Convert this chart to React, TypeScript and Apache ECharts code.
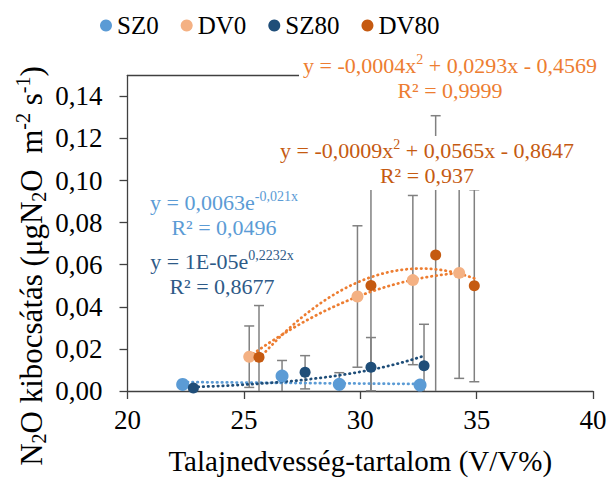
import React, { useEffect, useRef } from 'react';
import * as echarts from 'echarts';

// Soil moisture (V/V%) vs N2O emission, four treatments, mean ± SD
const seriesNames = ['SZ0', 'DV0', 'SZ80', 'DV80'];

const sz0X = [22.37, 26.64, 29.1, 32.57];
const sz0Y = [0.0031, 0.0071, 0.0032, 0.0028];
const sz0Sd = [0.0012, 0.0074, 0.0055, 0.001];

const dv0X = [25.23, 29.88, 32.26, 34.25];
const dv0Y = [0.0163, 0.0449, 0.0527, 0.0561];
const dv0Sd = [0.0146, 0.0336, 0.0402, 0.0501];

const sz80X = [22.83, 27.63, 30.46, 32.74];
const sz80Y = [0.0014, 0.0089, 0.0113, 0.012];
const sz80Sd = [0.001, 0.0079, 0.0141, 0.0197];

const dv80X = [25.65, 30.46, 33.24, 34.9];
const dv80Y = [0.016, 0.0501, 0.0646, 0.05];
const dv80Sd = [0.0246, 0.05, 0.0662, 0.0456];

const yTickValues = [0, 0.02, 0.04, 0.06, 0.08, 0.1, 0.12, 0.14];
const xTickValues = [20, 25, 30, 35, 40];

const eqDV0 = ['y = -0,0004x{sup|2} + 0,0293x - 0,4569', 'R² = 0,9999'];
const eqDV80 = ['y = -0,0009x{sup|2} + 0,0565x - 0,8647', 'R² = 0,937'];
const eqSZ0 = ['y = 0,0063e{sup|-0,021x}', 'R² = 0,0496'];
const eqSZ80 = ['y = 1E-05e{sup|0,2232x}', 'R² = 0,8677'];

const COLORS = {
  sz0: '#5B9BD5',
  dv0: '#F4B183',
  sz80: '#1F4E79',
  dv80: '#C55A11',
};

const SERIF = 'Liberation Serif';

// least-squares quadratic y = a x^2 + b x + c
function quadFit(xs: number[], ys: number[]) {
  let n = xs.length, s1 = 0, s2 = 0, s3 = 0, s4 = 0, t0 = 0, t1 = 0, t2 = 0;
  for (let i = 0; i < n; i++) {
    const x = xs[i], y = ys[i];
    s1 += x; s2 += x * x; s3 += x * x * x; s4 += x * x * x * x;
    t0 += y; t1 += x * y; t2 += x * x * y;
  }
  const m = [
    [s4, s3, s2],
    [s3, s2, s1],
    [s2, s1, n],
  ];
  const v = [t2, t1, t0];
  const det = (a: number[][]) =>
    a[0][0] * (a[1][1] * a[2][2] - a[1][2] * a[2][1]) -
    a[0][1] * (a[1][0] * a[2][2] - a[1][2] * a[2][0]) +
    a[0][2] * (a[1][0] * a[2][1] - a[1][1] * a[2][0]);
  const d = det(m);
  const coef = [0, 1, 2].map((col) => {
    const mm = m.map((row, r) => row.map((val, c) => (c === col ? v[r] : val)));
    return det(mm) / d;
  });
  return (x: number) => coef[0] * x * x + coef[1] * x + coef[2];
}

// exponential fit y = A e^(k x) via log-linear regression
function expFit(xs: number[], ys: number[]) {
  const n = xs.length;
  const ly = ys.map((y) => Math.log(y));
  const mx = xs.reduce((a, b) => a + b, 0) / n;
  const my = ly.reduce((a, b) => a + b, 0) / n;
  let sxy = 0, sxx = 0;
  for (let i = 0; i < n; i++) {
    sxy += (xs[i] - mx) * (ly[i] - my);
    sxx += (xs[i] - mx) * (xs[i] - mx);
  }
  const k = sxy / sxx;
  const lnA = my - k * mx;
  return (x: number) => Math.exp(lnA + k * x);
}

function curve(f: (x: number) => number, xs: number[], steps = 80) {
  const x0 = Math.min(...xs);
  const x1 = Math.max(...xs);
  const pts: number[][] = [];
  for (let i = 0; i <= steps; i++) {
    const x = x0 + ((x1 - x0) * i) / steps;
    pts.push([x, f(x)]);
  }
  return pts;
}

const zip = (xs: number[], ys: number[]) => xs.map((x, i) => [x, ys[i]]);
const zip3 = (xs: number[], ys: number[], sd: number[]) => xs.map((x, i) => [x, ys[i], sd[i]]);

const fmt = (v: number) => v.toFixed(2).replace('.', ',');

export default function App() {
  const ref = useRef<HTMLDivElement>(null);

  useEffect(() => {
    if (!ref.current) return;
    const chart = echarts.init(ref.current, undefined, { renderer: 'svg' });

    const errorSeries = (name: string, data: number[][]) => ({
      name: name + '-err',
      type: 'custom',
      z: 1,
      silent: true,
      data,
      encode: { x: 0, y: 1 },
      renderItem: (_p: any, api: any) => {
        const x = api.value(0);
        const y = api.value(1);
        const sd = api.value(2);
        const lo = Math.max(y - sd, 0);
        const top = api.coord([x, y + sd]);
        const bot = api.coord([x, lo]);
        const style = { stroke: '#808080', lineWidth: 1.5 };
        const children: any[] = [
          { type: 'line', shape: { x1: top[0], y1: top[1], x2: bot[0], y2: bot[1] }, style },
          { type: 'line', shape: { x1: top[0] - 5, y1: top[1], x2: top[0] + 5, y2: top[1] }, style },
        ];
        if (y - sd >= 0) {
          children.push({ type: 'line', shape: { x1: bot[0] - 5, y1: bot[1], x2: bot[0] + 5, y2: bot[1] }, style });
        }
        return { type: 'group', children };
      },
    });

    const trendSeries = (name: string, data: number[][], color: string) => ({
      name: name + '-trend',
      type: 'line',
      z: 2,
      silent: true,
      showSymbol: false,
      symbol: 'none',
      smooth: false,
      data,
      lineStyle: { color, width: 2.75, type: [0.5, 4.4], cap: 'round' },
    });

    const scatterSeries = (name: string, data: number[][], color: string, size: number) => ({
      name,
      type: 'scatter',
      z: 3,
      symbol: 'circle',
      symbolSize: size,
      data,
      itemStyle: { color, opacity: 1 },
    });

    const eqLabel = (lines: string[], x: number, y: number, color: string) => ({
      type: 'text',
      x,
      y,
      z: 100,
      style: {
        text: lines.join('\n'),
        fill: color,
        fontSize: 22,
        fontFamily: SERIF,
        lineHeight: 25,
        align: 'center',
        verticalAlign: 'middle',
        textAlign: 'center',
        textVerticalAlign: 'middle',
        backgroundColor: '#ffffff',
        padding: [2, 4, 2, 4],
        rich: {
          sup: { fontSize: 14, fontFamily: SERIF, fill: color, padding: [0, 0, 12, 0] },
        },
      },
    });

    const option: any = {
      animation: false,
      backgroundColor: '#ffffff',
      textStyle: { fontFamily: SERIF },
      legend: {
        data: seriesNames,
        top: 8,
        left: 95,
        icon: 'circle',
        itemWidth: 12,
        itemHeight: 12,
        itemGap: 22,
        textStyle: { fontSize: 25, color: '#000', fontFamily: SERIF },
      },
      grid: { left: 127.5, right: 17, top: 75.3, bottom: 90, containLabel: false },
      xAxis: [
        {
          type: 'value',
          min: 20,
          max: 40,
          interval: 5,
          name: 'Talajnedvesség-tartalom (V/V%)',
          nameLocation: 'middle',
          nameGap: 55,
          nameTextStyle: { fontSize: 29, color: '#000', fontFamily: SERIF },
          axisLine: { lineStyle: { color: '#404040', width: 1.3 } },
          axisTick: { show: true, length: 8, inside: false, lineStyle: { color: '#404040', width: 1.3 }, customValues: xTickValues },
          axisLabel: { fontSize: 27, color: '#000', margin: 15, fontFamily: SERIF, customValues: xTickValues },
          splitLine: { show: false },
        },
        {
          type: 'value',
          position: 'top',
          min: 20,
          max: 40,
          axisLine: { show: true, lineStyle: { color: '#404040', width: 1.3 } },
          axisTick: { show: false },
          axisLabel: { show: false },
          splitLine: { show: false },
        },
      ],
      yAxis: {
        type: 'value',
        min: 0,
        max: 0.15,
        interval: 0.02,
        axisLine: { show: true, lineStyle: { color: '#404040', width: 1.3 } },
        axisTick: { show: true, length: 8, inside: false, lineStyle: { color: '#404040', width: 1.3 }, customValues: yTickValues },
        axisLabel: {
          fontSize: 27,
          color: '#000',
          margin: 25,
          fontFamily: SERIF,
          customValues: yTickValues,
          formatter: (v: number) => fmt(v),
        },
        splitLine: { show: false },
      },
      series: [
        errorSeries('SZ0', zip3(sz0X, sz0Y, sz0Sd)),
        errorSeries('DV0', zip3(dv0X, dv0Y, dv0Sd)),
        errorSeries('SZ80', zip3(sz80X, sz80Y, sz80Sd)),
        errorSeries('DV80', zip3(dv80X, dv80Y, dv80Sd)),
        trendSeries('SZ0', curve(expFit(sz0X, sz0Y), sz0X), '#5B9BD5'),
        trendSeries('DV0', curve(quadFit(dv0X, dv0Y), dv0X), '#ED7D31'),
        trendSeries('SZ80', curve(expFit(sz80X, sz80Y), sz80X), '#1F4E79'),
        trendSeries('DV80', curve(quadFit(dv80X, dv80Y), dv80X), '#ED7D31'),
        scatterSeries('SZ0', zip(sz0X, sz0Y), COLORS.sz0, 13),
        scatterSeries('DV0', zip(dv0X, dv0Y), COLORS.dv0, 12),
        scatterSeries('SZ80', zip(sz80X, sz80Y), COLORS.sz80, 11),
        scatterSeries('DV80', zip(dv80X, dv80Y), COLORS.dv80, 11),
      ],
      graphic: [
        eqLabel(eqDV0, 450, 78, '#ED7D31'),
        eqLabel(eqDV80, 427, 163, '#C55A11'),
        eqLabel(eqSZ0, 224, 215, '#5B9BD5'),
        eqLabel(eqSZ80, 222, 274, '#2E5A87'),
        {
          type: 'text',
          x: 31,
          y: 266,
          rotation: Math.PI / 2,
          z: 100,
          style: {
            text: 'N{sub|2}O kibocsátás (μgN{sub|2}O  m{sup|-2} s{sup|-1})',
            fill: '#000',
            fontSize: 31,
            fontFamily: SERIF,
            align: 'center',
            verticalAlign: 'middle',
            textAlign: 'center',
            textVerticalAlign: 'middle',
            rich: {
              sub: { fontSize: 20, fontFamily: SERIF, fill: '#000', padding: [15, 0, 0, 0] },
              sup: { fontSize: 20, fontFamily: SERIF, fill: '#000', padding: [0, 0, 17, 0] },
            },
          },
        },
      ],
    };

    chart.setOption(option);
    return () => chart.dispose();
  }, []);

  return (
    <div
      ref={ref}
      style={{ position: 'fixed', left: 0, top: 0, width: 610, height: 481, background: '#fff' }}
    />
  );
}
